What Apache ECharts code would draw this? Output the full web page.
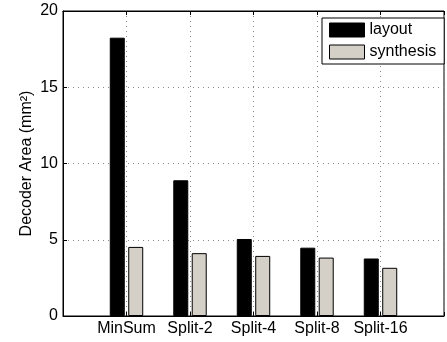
<!DOCTYPE html>
<html>
<head>
<meta charset="utf-8">
<script src="https://cdn.jsdelivr.net/npm/echarts@6/dist/echarts.min.js"></script>
<style>
html,body{margin:0;padding:0;background:#fff;}
#chart{width:447px;height:342px;}
</style>
</head>
<body>
<div id="chart"></div>
<script>
var categories = ['MinSum', 'Split-2', 'Split-4', 'Split-8', 'Split-16'];
var layoutValues = [18.25, 8.9, 5.05, 4.48, 3.77];
var synthesisValues = [4.53, 4.12, 3.94, 3.83, 3.16];
var yTicks = [0, 5, 10, 15, 20];

// padded category axis: empty slots at both ends (x-limits 0 and 6)
var axisCats = [''].concat(categories).concat(['']);
function pad(arr) { return ['-'].concat(arr).concat(['-']); }

var font = '"Liberation Sans", Arial, Helvetica, sans-serif';
var chart = echarts.init(document.getElementById('chart'), null, {renderer: 'canvas'});
chart.setOption({
  animation: false,
  backgroundColor: '#fff',
  textStyle: {fontFamily: font},
  grid: {left: 63, right: -4, top: 11, bottom: 26, show: true, borderColor: '#000', borderWidth: 1, containLabel: false},
  legend: {
    orient: 'vertical', left: 322, top: 18,
    itemWidth: 35, itemHeight: 14, itemGap: 6, icon: 'rect',
    padding: [4, 8, 4, 7],
    borderColor: '#000', borderWidth: 1, backgroundColor: '#fff', borderRadius: 0,
    textStyle: {fontSize: 16, color: '#000', fontFamily: font},
    data: [
      {name: 'layout', itemStyle: {color: '#000', borderColor: '#000', borderWidth: 1}},
      {name: 'synthesis', itemStyle: {color: '#d4d0c8', borderColor: '#000', borderWidth: 1}}
    ]
  },
  xAxis: [{
    type: 'category', data: axisCats, boundaryGap: false,
    axisLine: {show: true, lineStyle: {color: '#000', width: 1}},
    axisTick: {show: true, inside: true, length: 4, lineStyle: {color: '#000'}, interval: 0},
    axisLabel: {fontSize: 16, color: '#000', margin: 5, fontFamily: font, interval: 0},
    splitLine: {show: true, lineStyle: {color: '#8a8a8a', type: [1, 4], width: 1}}
  }, {
    type: 'category', data: axisCats, boundaryGap: false, position: 'top',
    axisLine: {show: true, lineStyle: {color: '#000', width: 1}},
    axisTick: {show: true, inside: true, length: 4, lineStyle: {color: '#000'}, interval: 0},
    axisLabel: {show: false}, splitLine: {show: false}
  }],
  yAxis: {
    type: 'value', min: yTicks[0], max: yTicks[yTicks.length - 1], interval: 5,
    name: 'Decoder Area (mm\u00B2)', nameLocation: 'middle', nameGap: 28,
    nameMoveOverlap: false,
    nameTextStyle: {fontSize: 16, color: '#000', fontFamily: font},
    axisLine: {show: true, lineStyle: {color: '#000', width: 1}},
    axisTick: {show: true, inside: true, length: 4, lineStyle: {color: '#000'}},
    axisLabel: {fontSize: 16, color: '#000', margin: 5, fontFamily: font},
    splitLine: {show: true, lineStyle: {color: '#8a8a8a', type: [1, 4], width: 1}}
  },
  series: [{
    name: 'layout', type: 'bar', data: pad(layoutValues),
    barWidth: 15, barGap: '23%',
    itemStyle: {color: '#000', borderColor: '#000', borderWidth: 1}
  }, {
    name: 'synthesis', type: 'bar', data: pad(synthesisValues),
    barWidth: 15,
    itemStyle: {color: '#d4d0c8', borderColor: '#000', borderWidth: 1}
  }]
});
</script>
</body>
</html>
